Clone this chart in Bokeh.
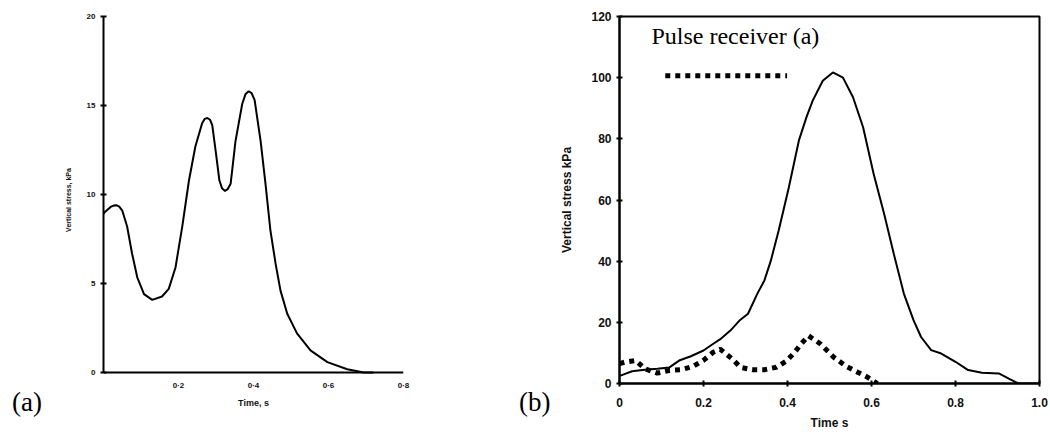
from bokeh.plotting import figure
from bokeh.layouts import row
from bokeh.models import Range1d, FixedTicker, Label, Span, Div
from bokeh.embed import file_html
from bokeh.resources import INLINE

# ---------------- data: panel (a) ----------------
a_time = [0.0, 0.003, 0.019, 0.027, 0.034, 0.042, 0.05, 0.063, 0.076, 0.09, 0.108,
          0.13, 0.156, 0.174, 0.192, 0.21, 0.228, 0.245, 0.263, 0.27, 0.277, 0.284,
          0.29, 0.30, 0.309, 0.316, 0.324, 0.331, 0.339, 0.352, 0.37, 0.379, 0.387,
          0.395, 0.403, 0.419, 0.432, 0.445, 0.459, 0.472, 0.49, 0.516, 0.552,
          0.597, 0.65, 0.694, 0.72]
a_stress = [8.9, 9.0, 9.3, 9.38, 9.4, 9.32, 9.1, 8.2, 6.7, 5.35, 4.4,
            4.08, 4.27, 4.7, 5.9, 8.2, 10.8, 12.7, 14.0, 14.25, 14.3, 14.2,
            13.9, 12.3, 10.8, 10.35, 10.2, 10.3, 10.6, 13.0, 15.1, 15.65, 15.8,
            15.7, 15.3, 13.0, 10.6, 8.0, 6.1, 4.6, 3.3, 2.2, 1.24,
            0.58, 0.18, 0.0, 0.0]
a_xticks = [0.2, 0.4, 0.6, 0.8]
a_xlabels = ["0·2", "0·4", "0·6", "0·8"]
a_yticks = [0, 5, 10, 15, 20]

# ---------------- data: panel (b) ----------------
b_time = [0.0, 0.007, 0.03, 0.06, 0.09, 0.118, 0.142, 0.17, 0.2, 0.218, 0.24,
          0.264, 0.285, 0.306, 0.328, 0.345, 0.36, 0.379, 0.403, 0.427, 0.445,
          0.46, 0.484, 0.508, 0.532, 0.556, 0.58, 0.605, 0.63, 0.653, 0.677,
          0.7, 0.718, 0.742, 0.766, 0.8, 0.83, 0.863, 0.903, 0.927, 0.95, 1.0]
b_stress = [2.6, 2.8, 4.0, 4.5, 4.8, 5.2, 7.5, 8.9, 10.8, 12.5, 14.5,
            17.3, 20.5, 22.8, 29.3, 33.7, 40.0, 50.0, 64.0, 79.4, 87.0,
            92.5, 99.0, 101.7, 100.0, 93.6, 83.8, 68.6, 55.5, 42.4, 29.4,
            20.7, 15.2, 10.9, 9.8, 7.1, 4.4, 3.5, 3.3, 1.6, 0.0, 0.0]
pulse_time = [0.0, 0.013, 0.039, 0.061, 0.09, 0.118, 0.146, 0.175, 0.199, 0.223,
              0.24, 0.268, 0.288, 0.316, 0.345, 0.373, 0.397, 0.417, 0.434,
              0.45, 0.478, 0.51, 0.54, 0.567, 0.59, 0.614]
pulse_stress = [6.5, 7.0, 7.5, 4.8, 3.4, 4.25, 4.5, 5.6, 7.5, 10.2,
                11.2, 8.1, 5.3, 4.5, 4.5, 5.3, 7.3, 10.2, 13.2,
                15.6, 13.0, 8.6, 5.6, 3.7, 2.1, 0.0]
b_xticks = [0.0, 0.2, 0.4, 0.6, 0.8, 1.0]
b_xlabels = ["0", "0.2", "0.4", "0.6", "0.8", "1.0"]
b_yticks = [0, 20, 40, 60, 80, 100, 120]
legend_label = "Pulse receiver (a)"
legend_x = [0.109, 0.399]
legend_y = [100.6, 100.6]
panel_tags = ["(a)", "(b)"]

SANS = "Liberation Sans"
SERIF = "Liberation Serif"
INK = "#111111"


def tag_div(text, pad_left, width):
    html = ('<div style="padding-top:389px;padding-left:%dpx;font-family:\'Liberation Serif\';'
            'font-size:27px;line-height:27px;color:black;white-space:nowrap">%s</div>'
            % (pad_left, text))
    return Div(text=html, width=width, height=432, margin=0)


# ---------------- panel (a) ----------------
pa = figure(width=468, height=432, output_backend="svg", toolbar_location=None,
            x_range=Range1d(0, 0.8), y_range=Range1d(-0.618, 20),
            min_border_left=53, min_border_right=115, min_border_top=16,
            min_border_bottom=49)
pa.outline_line_color = None
pa.grid.visible = False
pa.line(a_time, a_stress, line_color="black", line_width=2)
pa.add_layout(Span(location=0, dimension="width", line_color="black", line_width=2))

pa.yaxis.bounds = (0, 20)
pa.xaxis.ticker = FixedTicker(ticks=a_xticks)
pa.xaxis.major_label_overrides = {t: l for t, l in zip(a_xticks, a_xlabels)}
pa.yaxis.ticker = FixedTicker(ticks=a_yticks)
pa.xaxis.minor_tick_line_color = None
pa.yaxis.minor_tick_line_color = None
for ax in (pa.xaxis[0], pa.yaxis[0]):
    ax.axis_line_width = 2
    ax.axis_line_color = "black"
    ax.major_tick_line_color = "black"
    ax.major_tick_line_width = 2
    ax.major_tick_in = 3
    ax.major_tick_out = 3
    ax.major_label_text_font = SANS
    ax.major_label_text_font_style = "bold"
    ax.major_label_text_font_size = "8px"
    ax.major_label_text_color = INK
    ax.axis_label_text_font = SANS
    ax.axis_label_text_font_style = "bold"
    ax.axis_label_text_color = INK
# x axis of (a) sits at stress = 0 (drawn by the Span); the bottom axis only carries labels
pa.xaxis.axis_line_color = None
pa.xaxis.major_tick_line_color = None
pa.xaxis.major_tick_in = 0
pa.xaxis.major_tick_out = 0
pa.xaxis.major_label_standoff = -3
pa.xaxis.axis_label = "Time, s"
pa.xaxis.axis_label_text_font_size = "9px"
pa.xaxis.axis_label_standoff = 5
pa.yaxis.axis_label = "Vertical stress, kPa"
pa.yaxis.axis_label_text_font_size = "7px"
pa.yaxis.major_label_standoff = 5
pa.yaxis.axis_label_standoff = 12

# ---------------- panel (b) ----------------
pb = figure(width=493, height=432, output_backend="svg", toolbar_location=None,
            x_range=Range1d(0, 1.0), y_range=Range1d(0, 120),
            min_border_left=61, min_border_right=11, min_border_top=16,
            min_border_bottom=49)
pb.outline_line_color = "black"
pb.outline_line_width = 2
pb.grid.visible = False
pb.line(b_time, b_stress, line_color="black", line_width=2)
pb.line(pulse_time, pulse_stress, line_color="black", line_width=5, line_dash="5 5")
pb.line(legend_x, legend_y, line_color="black", line_width=5, line_dash="5 5")
pb.add_layout(Label(x=0.076, y=109.3, text=legend_label, text_font=SERIF,
                    text_font_size="24px", text_color="black"))

pb.xaxis.ticker = FixedTicker(ticks=b_xticks)
pb.xaxis.major_label_overrides = {t: l for t, l in zip(b_xticks, b_xlabels)}
pb.yaxis.ticker = FixedTicker(ticks=b_yticks)
pb.xaxis.minor_tick_line_color = None
pb.yaxis.minor_tick_line_color = None
for ax in (pb.xaxis[0], pb.yaxis[0]):
    ax.axis_line_width = 2
    ax.axis_line_color = "black"
    ax.major_tick_line_color = "black"
    ax.major_tick_line_width = 2
    ax.major_tick_in = 3
    ax.major_tick_out = 3
    ax.major_label_text_font = SANS
    ax.major_label_text_font_style = "bold"
    ax.major_label_text_font_size = "12px"
    ax.major_label_text_color = INK
    ax.axis_label_text_font = SANS
    ax.axis_label_text_font_style = "bold"
    ax.axis_label_text_font_size = "12px"
    ax.axis_label_text_color = INK
pb.xaxis.axis_label = "Time s"
pb.xaxis.major_label_standoff = 11
pb.xaxis.axis_label_standoff = 6
pb.yaxis.axis_label = "Vertical stress kPa"
pb.yaxis.major_label_standoff = 5
pb.yaxis.axis_label_standoff = 14

layout = row(tag_div(panel_tags[0], 12, 50), pa, tag_div(panel_tags[1], 1, 39), pb)
open("out.html", "w").write(file_html(layout, INLINE))
